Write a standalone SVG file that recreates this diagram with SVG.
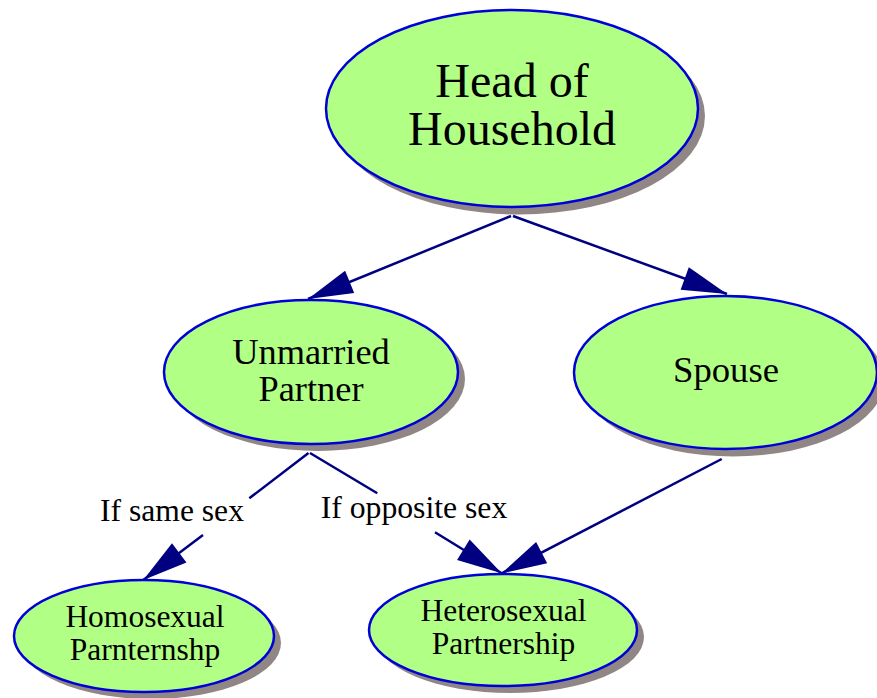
<svg xmlns="http://www.w3.org/2000/svg" width="877" height="698" viewBox="0 0 877 698">
<style>
.shadow{fill:#908686;stroke:none}
.node{fill:#b2ff86;stroke:#0000d8;stroke-width:2.5}
.lbl{font-family:"Liberation Serif","Times New Roman",serif;fill:#000;text-anchor:middle}
.edge{fill:none;stroke:#000080;stroke-width:2.5;marker-end:url(#arr)}
</style>
<defs>
<marker id="arr" markerUnits="userSpaceOnUse" viewBox="-47 -14 49 28" markerWidth="49" markerHeight="28" refX="0" refY="0" orient="auto">
<path d="M0,0 L-45,-12 L-45,12 Z" fill="#000080"/>
</marker>
</defs>
<rect width="877" height="698" fill="#fff"/>
<g id="connectors">
<path class="edge" d="M511,216 L308,299"/>
<path class="edge" d="M513,216 L727,294"/>
<path class="edge" d="M308.5,453 L249.3,498.3 M203,535 L143.3,580"/>
<path class="edge" d="M310,453 L377.3,493.3 M435,532.3 L501.7,573.3"/>
<path class="edge" d="M721.7,459 L501.7,573.3"/>
<text class="lbl" x="172" y="521" font-size="31.6">If same sex</text>
<text class="lbl" x="414" y="518" font-size="31.7">If opposite sex</text>
</g>
<g id="head">
<ellipse class="shadow" cx="519" cy="116" rx="186" ry="98.5"/>
<ellipse class="node" cx="512" cy="108.5" rx="186" ry="98.5"/>
<text class="lbl" x="512" y="97" font-size="48">Head of</text>
<text class="lbl" x="512" y="145" font-size="48">Household</text>
</g>
<g id="unmarried">
<ellipse class="shadow" cx="318" cy="379" rx="147" ry="72"/>
<ellipse class="node" cx="311" cy="372" rx="147" ry="72"/>
<text class="lbl" x="311" y="363.5" font-size="36.4">Unmarried</text>
<text class="lbl" x="311" y="400.5" font-size="36.4">Partner</text>
</g>
<g id="spouse">
<ellipse class="shadow" cx="733" cy="380" rx="151.5" ry="76.5"/>
<ellipse class="node" cx="725.5" cy="372.5" rx="151.5" ry="76.5"/>
<text class="lbl" x="726" y="382" font-size="36.7">Spouse</text>
</g>
<g id="homosexual">
<ellipse class="shadow" cx="151" cy="643" rx="130" ry="56"/>
<ellipse class="node" cx="144" cy="636" rx="130" ry="56"/>
<text class="lbl" x="145" y="627" font-size="31.5">Homosexual</text>
<text class="lbl" x="145" y="660" font-size="31.5">Parnternshp</text>
</g>
<g id="heterosexual">
<ellipse class="shadow" cx="510" cy="637" rx="134" ry="56"/>
<ellipse class="node" cx="503" cy="630" rx="134" ry="56"/>
<text class="lbl" x="503.5" y="621" font-size="31.5">Heterosexual</text>
<text class="lbl" x="503.5" y="653.5" font-size="31.5">Partnership</text>
</g>
</svg>
